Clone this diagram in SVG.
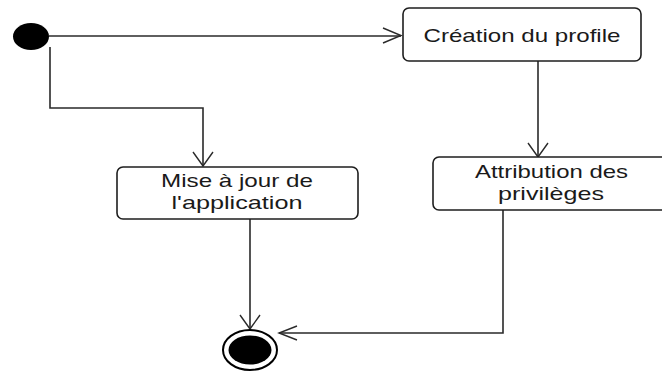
<svg xmlns="http://www.w3.org/2000/svg" width="662" height="372" viewBox="0 0 662 372">
  <style>
    .box { fill: #ffffff; stroke: #1e1e1e; stroke-width: 1.6; }
    .lbl { font-family: "Liberation Sans", Arial, sans-serif; font-size: 19px; fill: #1a1a1a; text-anchor: middle; }
    .edge { fill: none; stroke: #2a2a2a; stroke-width: 1.6; }
    .head { fill: none; stroke: #2a2a2a; stroke-width: 1.4; }
  </style>
  <rect width="662" height="372" fill="#ffffff"/>

  <!-- connectors -->
  <g id="connectors">
    <!-- start -> Création du profile -->
    <path class="edge" d="M49 36 H401"/>
    <path class="head" d="M383 28 L401 35.5 L383 43"/>
    <!-- start -> Mise à jour -->
    <path class="edge" d="M50 47 V108 H203 V166"/>
    <path class="head" d="M193 152 L203 166 L213 152"/>
    <!-- Création -> Attribution -->
    <path class="edge" d="M538 61 V157"/>
    <path class="head" d="M528 143 L538 157 L548 143"/>
    <!-- Mise à jour -> end -->
    <path class="edge" d="M250 219 V329"/>
    <path class="head" d="M240 315 L250 329 L260 315"/>
    <!-- Attribution -> end -->
    <path class="edge" d="M503 210 V333 H279"/>
    <path class="head" d="M297 326 L279 333 L297 340"/>
  </g>

  <g id="start">
    <ellipse cx="31" cy="36.5" rx="18" ry="13.5" fill="#000000"/>
  </g>

  <g id="creation">
    <rect class="box" x="403" y="8" width="238" height="53" rx="6"/>
    <text class="lbl" x="522" y="42" textLength="197" lengthAdjust="spacingAndGlyphs">Création du profile</text>
  </g>

  <g id="mise-a-jour">
    <rect class="box" x="117" y="167" width="241" height="52" rx="6"/>
    <text class="lbl" x="237" y="187" textLength="152" lengthAdjust="spacingAndGlyphs">Mise à jour de</text>
    <text class="lbl" x="237" y="209" textLength="131" lengthAdjust="spacingAndGlyphs">l'application</text>
  </g>

  <g id="attribution">
    <rect class="box" x="433" y="157" width="240" height="53" rx="6"/>
    <text class="lbl" x="551.5" y="178" textLength="153" lengthAdjust="spacingAndGlyphs">Attribution des</text>
    <text class="lbl" x="551" y="200" textLength="106" lengthAdjust="spacingAndGlyphs">privilèges</text>
  </g>

  <g id="end">
    <ellipse cx="250" cy="350" rx="27" ry="20" fill="#ffffff" stroke="#000000" stroke-width="2"/>
    <ellipse cx="250" cy="350" rx="21.5" ry="14.5" fill="#000000"/>
  </g>
</svg>
